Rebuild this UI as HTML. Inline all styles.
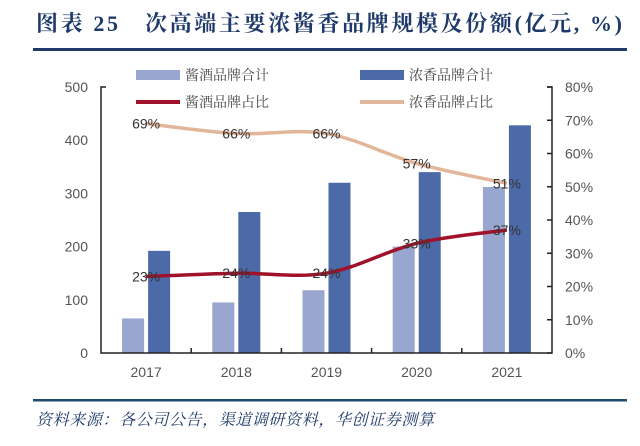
<!DOCTYPE html>
<html><head><meta charset="utf-8"><style>
body{margin:0;width:640px;height:441px;background:#fff;overflow:hidden;font-family:"Liberation Sans","Noto Sans CJK SC",sans-serif}
</style></head><body>
<svg width="640" height="441" viewBox="0 0 640 441" id="chart">
<text x="36" y="31" font-size="22" font-weight="bold" fill="#1f3a6a" textLength="586" lengthAdjust="spacing" xml:space="preserve" font-family="Liberation Serif,Noto Serif CJK SC,serif">图表 25   次高端主要浓酱香品牌规模及份额(亿元, %)</text>
<rect x="33" y="48" width="594" height="3" fill="#1f3a6a"/>
<rect x="33" y="399" width="594" height="2.5" fill="#1f4a6a"/>
<text x="36" y="425" font-size="16" font-style="italic" fill="#1f3a6a" textLength="398" lengthAdjust="spacing" font-family="Liberation Serif,Noto Serif CJK SC,serif">资料来源：各公司公告，渠道调研资料，华创证券测算</text>
<g font-size="14" fill="#444" font-family="Liberation Serif,Noto Serif CJK SC,serif">
<rect x="136" y="70" width="44" height="10" fill="#99a6cf"/>
<text x="185" y="80">酱酒品牌合计</text>
<rect x="360" y="70" width="44" height="10" fill="#4c6aa8"/>
<text x="409" y="80">浓香品牌合计</text>
<rect x="136" y="100" width="44" height="4" fill="#a0122a"/>
<text x="185" y="107">酱酒品牌占比</text>
<rect x="360" y="100" width="44" height="4" fill="#e2b69a"/>
<text x="409" y="107">浓香品牌占比</text>
</g>
<g id="plot"></g>
</svg>
<script>
const categories=["2017","2018","2019","2020","2021"];
const jiangTotal=[65,95,118,200,312];
const nongTotal=[192,265,320,340,428];
const jiangShare=[23,24,24,33,37];
const nongShare=[69,66,66,57,51];
const leftTicks=[0,100,200,300,400,500];
const rightTicks=[0,10,20,30,40,50,60,70,80];
const L=101,R=552,T=87,B=353;
const NS="http://www.w3.org/2000/svg";
const g=document.getElementById('plot');
const y=v=>B-(v/500)*(B-T);
const yr=v=>B-(v/80)*(B-T);
const cw=(R-L)/categories.length;
const cx=i=>L+cw*(i+0.5);
function mk(t,a,txt){const e=document.createElementNS(NS,t);for(const k in a)e.setAttribute(k,a[k]);if(txt!==undefined)e.textContent=txt;g.appendChild(e);return e;}
categories.forEach((c,i)=>{
 let e=mk('rect',{x:cx(i)-24,y:y(jiangTotal[i]),width:22,height:B-y(jiangTotal[i]),fill:'#99a6cf'});
 
 
 e=mk('rect',{x:cx(i)+2,y:y(nongTotal[i]),width:22,height:B-y(nongTotal[i]),fill:'#4c6aa8'});
 
 
 e=mk('text',{x:cx(i),y:B+24,'text-anchor':'middle','font-size':14,fill:'#555'},c);
 
 
});
function smooth(vals){
 const p=vals.map((v,i)=>[cx(i),yr(v)]);let d='M'+p[0][0]+','+p[0][1];
 for(let i=0;i<p.length-1;i++){const p0=p[i-1]||p[i],p1=p[i],p2=p[i+1],p3=p[i+2]||p2;
  d+=` C${p1[0]+(p2[0]-p0[0])/6},${p1[1]+(p2[1]-p0[1])/6} ${p2[0]-(p3[0]-p1[0])/6},${p2[1]-(p3[1]-p1[1])/6} ${p2[0]},${p2[1]}`;}
 return d;}
let ln=mk('path',{d:smooth(nongShare),fill:'none',stroke:'#e2b69a','stroke-width':3.5});


ln=mk('path',{d:smooth(jiangShare),fill:'none',stroke:'#a0122a','stroke-width':3.5});


categories.forEach((c,i)=>{
 let e=mk('text',{x:cx(i),y:yr(nongShare[i])+5,'text-anchor':'middle','font-size':14,fill:'#333'},nongShare[i]+'%');
 
 
 e=mk('text',{x:cx(i),y:yr(jiangShare[i])+5,'text-anchor':'middle','font-size':14,fill:'#333'},jiangShare[i]+'%');
 
 
});
let ax=mk('path',{d:`M${L+5},${T} H${L} V${B} H${R} V${T} H${R-5}`,fill:'none',stroke:'#222','stroke-width':1.5});


for(let i=1;i<categories.length;i++){let e=mk('line',{x1:L+cw*i,x2:L+cw*i,y1:B,y2:B-5,stroke:'#222','stroke-width':1.5});
 
 }
leftTicks.forEach(v=>{let e=mk('text',{x:L-13,y:y(v)+5,'text-anchor':'end','font-size':14,fill:'#555'},v);
 
 });
rightTicks.forEach(v=>{let e=mk('line',{x1:R,x2:R-5,y1:yr(v),y2:yr(v),stroke:'#222','stroke-width':1.5});
 
 
 e=mk('text',{x:R+13,y:yr(v)+5,'font-size':14,fill:'#555'},v+'%');
 
 });
</script>
</body></html>
